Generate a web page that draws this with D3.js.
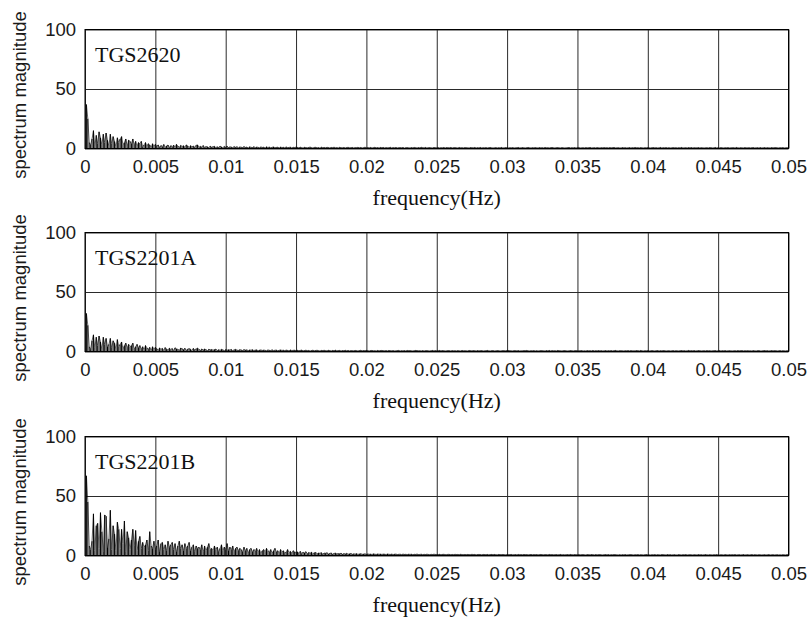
<!DOCTYPE html>
<html>
<head>
<meta charset="utf-8">
<script src="https://cdn.jsdelivr.net/npm/d3@7"></script>
<style>
  html, body { margin: 0; padding: 0; background: #fff; }
  svg { display: block; }
</style>
</head>
<body>
<svg id="chart" width="812" height="622"></svg>
<script>
// Sensor names shown in each panel
const sensorNames = ["TGS2620", "TGS2201A", "TGS2201B"];

// Frequency grid of the spectra: bin i sits at (i + 1) * freqStep Hz
const freqStep = 0.0001;

// Spectrum magnitudes, one value per frequency bin (0.0001 .. 0.05 Hz), ten bins per row
const spectrumTGS2620 = [
  37,25,5,3,8,15,2,11,4,14,
  9,3,12,5,13,7,2,12,4,10,
  6,1.5,9,5,8,10,3,5,8,2,
  7,6,4,8,3,6,2,5,4,6,
  1.5,3,5,2,4,3,1,4,2,3.5,
  2,3,1,2.5,1.5,3.4,1,2.2,2.9,0.8,
  2.4,1.6,2.8,1,3.5,2.1,0.9,2.6,1.7,2.3,
  1.2,3,2.2,0.8,2.4,1.5,2,1.1,2.7,3,
  1,1.8,1.2,2.5,0.9,1.6,1.4,0.7,2,1.1,
  1.5,1.8,0.8,1.4,0.9,1.9,1.3,0.6,1.7,1,
  1.9,0.8,1.4,1.2,0.7,1.6,1,1.5,0.6,1.3,
  1.1,0.8,1.6,0.9,1.2,0.5,1.4,1,0.8,1.5,
  0.7,1.2,1,0.6,1.3,0.9,1.1,0.5,1.4,0.8,
  1.2,0.6,1,1.3,0.7,0.9,1.1,0.5,1.2,0.8,
  1,0.6,1.3,0.7,0.9,1.1,0.5,1,0.8,1.2,
  0.9,0.6,1.1,0.7,0.5,1,0.8,0.6,0.9,1.2,
  0.7,0.5,0.9,1,0.6,0.8,0.4,1.1,0.7,0.9,
  0.6,1,0.8,0.5,0.9,0.7,1.1,0.6,0.8,0.5,
  1,0.7,0.6,0.9,0.5,0.8,1,0.6,0.7,0.9,
  0.5,0.8,0.7,1,0.6,0.9,0.5,0.7,1.1,0.6,
  0.8,0.6,0.9,0.5,0.7,1,0.6,0.8,0.5,0.9,
  0.7,0.9,0.5,0.8,0.6,0.7,1,0.5,0.8,0.6,
  0.9,0.5,0.7,0.8,0.6,0.9,0.4,0.7,0.8,0.6,
  0.5,0.8,0.6,0.9,0.7,0.5,0.8,0.6,1,0.7,
  0.6,0.9,0.5,0.7,0.8,0.6,0.5,0.9,0.7,0.6,
  0.8,0.5,0.7,0.6,0.9,0.5,0.8,0.7,0.6,0.9,
  0.5,0.7,0.8,0.6,0.5,0.9,0.6,0.7,0.5,0.8,
  0.7,0.6,0.5,0.8,0.7,0.6,0.9,0.5,0.7,0.6,
  0.9,0.5,0.7,0.6,0.8,0.5,0.7,0.9,0.6,0.5,
  0.6,0.8,0.5,0.7,0.6,0.9,0.5,0.6,0.8,0.7,
  0.5,0.7,0.6,0.8,0.5,0.6,0.7,0.9,0.5,0.6,
  0.8,0.6,0.5,0.7,0.9,0.6,0.5,0.7,0.6,0.8,
  0.6,0.5,0.8,0.6,0.7,0.5,0.9,0.6,0.7,0.5,
  0.7,0.9,0.6,0.5,0.7,0.8,0.6,0.5,0.8,0.6,
  0.5,0.6,0.7,0.9,0.5,0.7,0.6,0.8,0.5,0.7,
  0.8,0.5,0.6,0.7,0.5,0.8,0.6,0.7,0.9,0.5,
  0.6,0.7,0.5,0.8,0.6,0.5,0.7,0.6,0.8,0.6,
  0.7,0.5,0.8,0.6,0.7,0.9,0.5,0.6,0.7,0.5,
  0.5,0.8,0.6,0.7,0.5,0.6,0.8,0.5,0.7,0.6,
  0.9,0.6,0.7,0.5,0.8,0.6,0.5,0.7,0.6,0.8,
  0.6,0.5,0.7,0.8,0.6,0.7,0.5,0.6,0.9,0.5,
  0.7,0.6,0.8,0.5,0.7,0.5,0.6,0.8,0.6,0.7,
  0.5,0.7,0.6,0.9,0.5,0.6,0.7,0.5,0.8,0.6,
  0.8,0.5,0.7,0.6,0.6,0.8,0.5,0.7,0.6,0.5,
  0.6,0.7,0.5,0.8,0.7,0.5,0.6,0.9,0.5,0.7,
  0.5,0.8,0.6,0.5,0.7,0.6,0.8,0.5,0.6,0.7,
  0.7,0.5,0.9,0.6,0.5,0.7,0.6,0.5,0.8,0.6,
  0.6,0.7,0.5,0.7,0.8,0.5,0.6,0.7,0.5,0.8,
  0.5,0.6,0.8,0.5,0.7,0.6,0.5,0.8,0.6,0.7,
  0.8,0.6,0.5,0.7,0.6,0.8,0.5,0.6,0.7,0.5
];

const spectrumTGS2201A = [
  32,22,4,2,9,14,3,12,5,13,
  8,2,12,6,11,4,6,11,3,9,
  7,2,10,4,6,8,2,5,7,3,
  6,4,5,7,2,4,6,3,5,2,
  4,1.5,5,3,2,3.5,1,4,2,3.5,
  2.4,1,3,1.9,2.6,0.9,3.3,2,1.2,2.8,
  1.7,2.5,0.8,3.1,2.2,1.8,1,2.9,2.3,1.6,
  2.7,1,2,2.4,1.9,0.8,2.6,1.5,2.2,2.8,
  1.8,1,2.1,1.3,2.1,1.5,0.7,1.9,1.4,1.7,
  1.1,1.6,2,0.8,1.5,1,1.8,1.4,0.6,1.6,
  1.1,1.5,1.3,1.7,0.7,1.4,1.8,1.2,0.9,1.5,
  1.3,0.8,1.6,1.2,1.4,0.7,1.3,1.1,1.5,0.8,
  1.2,1.4,0.6,1.1,1.3,0.9,1.2,1,0.6,1.3,
  1,0.8,1.4,0.7,1.1,1.2,0.6,1,1.3,0.9,
  1.1,0.7,1.2,0.9,0.6,1.3,0.8,1,1.1,0.7,
  1,0.7,0.9,1.2,0.6,0.8,1.1,0.7,0.9,0.5,
  0.8,1.1,0.6,0.9,1,0.7,0.5,0.9,0.8,1,
  0.7,0.6,1,0.8,0.5,0.9,0.7,1.1,0.6,0.8,
  0.9,0.5,0.8,0.7,1,0.6,0.9,0.5,0.8,0.7,
  0.6,0.9,0.7,0.5,0.8,1,0.6,0.8,0.7,0.9,
  0.7,0.5,0.8,0.9,0.6,0.7,0.5,0.9,0.6,0.8,
  0.9,0.7,0.6,0.8,0.5,0.9,0.7,0.6,0.8,0.5,
  0.6,0.8,0.9,0.5,0.7,0.6,0.8,0.5,0.9,0.7,
  0.8,0.6,0.5,0.7,0.9,0.8,0.6,0.7,0.5,0.8,
  0.5,0.7,0.8,0.6,0.5,0.7,0.9,0.6,0.8,0.6,
  0.7,0.9,0.6,0.8,0.7,0.5,0.6,0.8,0.7,0.5,
  0.8,0.6,0.7,0.5,0.8,0.6,0.5,0.9,0.6,0.7,
  0.6,0.5,0.9,0.7,0.6,0.8,0.7,0.5,0.8,0.6,
  0.7,0.8,0.5,0.6,0.7,0.9,0.6,0.5,0.7,0.8,
  0.5,0.6,0.8,0.7,0.5,0.6,0.8,0.7,0.6,0.9,
  0.8,0.7,0.6,0.5,0.8,0.7,0.6,0.8,0.5,0.6,
  0.6,0.8,0.7,0.9,0.6,0.5,0.7,0.6,0.8,0.5,
  0.7,0.5,0.6,0.8,0.7,0.6,0.5,0.8,0.6,0.9,
  0.5,0.8,0.6,0.7,0.5,0.9,0.7,0.6,0.5,0.7,
  0.8,0.6,0.5,0.6,0.8,0.7,0.5,0.7,0.8,0.6,
  0.6,0.7,0.8,0.5,0.6,0.5,0.8,0.6,0.7,0.5,
  0.9,0.5,0.7,0.6,0.8,0.6,0.7,0.5,0.6,0.8,
  0.5,0.7,0.6,0.8,0.5,0.7,0.9,0.6,0.5,0.7,
  0.7,0.6,0.5,0.7,0.6,0.8,0.5,0.8,0.6,0.6,
  0.6,0.8,0.7,0.5,0.9,0.6,0.5,0.7,0.6,0.8,
  0.5,0.6,0.8,0.6,0.5,0.7,0.8,0.5,0.7,0.6,
  0.8,0.7,0.5,0.6,0.7,0.5,0.6,0.8,0.5,0.7,
  0.6,0.5,0.7,0.8,0.6,0.7,0.5,0.6,0.9,0.6,
  0.7,0.6,0.8,0.5,0.6,0.8,0.7,0.5,0.6,0.7,
  0.5,0.8,0.6,0.7,0.5,0.6,0.7,0.8,0.5,0.6,
  0.8,0.5,0.7,0.6,0.8,0.5,0.6,0.7,0.6,0.5,
  0.6,0.7,0.5,0.8,0.6,0.7,0.8,0.5,0.7,0.6,
  0.7,0.6,0.6,0.5,0.8,0.6,0.5,0.7,0.8,0.5,
  0.5,0.7,0.8,0.6,0.7,0.5,0.6,0.8,0.6,0.7,
  0.7,0.5,0.6,0.8,0.5,0.7,0.6,0.5,0.7,0.6
];

const spectrumTGS2201B = [
  67,45,8,5,12,35,4,25,27,6,
  36,20,3,34,33,7,14,38,5,25,
  18,4,28,22,6,22,10,29,3,20,
  15,5,13,22,8,21,4,12,16,6,
  11,7,9,13,4,20,8,6,12,5,
  8,13,3,10,11,5,9,4,12,7,
  9,11,5,10,3,8,12,6,9,4,
  10,6,8,11,4,7,9,3,8,6,
  7,5,9,3,8,4,7,10,5,6,
  4,8,5,7,3,6,9,4,7,5,
  10,4,7,5,8,3,6,7,4,6,
  5,3,7,4,6,2,5,6,3,5,
  4,6,3,5,2,4,5,3,6,4,
  3,5,2,4,6,3,4,2,5,3,
  4,2,3,5,2.5,3.5,2,4,3,2.5,
  3,2,3.5,1.8,2.7,2.2,3.2,1.6,2.5,2,
  2.8,1.5,2.3,2.6,1.4,2.1,1.8,2.4,1.2,2,
  1.9,2.3,1.3,1.8,2.1,1.1,1.7,2,1.4,1.6,
  1.5,1.9,1,1.6,1.3,1.8,1.1,1.4,1.7,1,
  1.4,1.2,1.6,0.9,1.3,1.5,1,1.2,1.4,0.9,
  1.3,1,1.2,0.8,1.4,1.1,0.9,1.3,1,1.2,
  0.9,1.2,1.1,0.8,1.3,1,0.9,1.2,0.8,1.1,
  1.2,0.8,1,1.1,0.7,1.2,0.9,1,0.8,1.1,
  0.9,1.1,0.7,1,0.9,1.2,0.8,0.9,1.1,0.7,
  1,0.8,1.1,0.9,0.7,1,0.8,1.1,0.9,0.8,
  0.8,1,0.7,0.9,1,0.8,0.7,1,0.9,0.7,
  0.9,0.7,1,0.8,0.9,0.7,1,0.8,0.7,0.9,
  0.7,0.9,0.8,0.7,1,0.8,0.9,0.6,0.8,0.9,
  0.8,0.6,0.9,0.8,0.7,0.9,0.6,0.8,0.9,0.7,
  0.9,0.7,0.6,0.9,0.8,0.7,0.9,0.7,0.6,0.8,
  0.7,0.8,0.9,0.6,0.7,0.8,0.6,0.9,0.7,0.8,
  0.6,0.9,0.7,0.8,0.6,0.7,0.9,0.6,0.8,0.7,
  0.8,0.6,0.7,0.9,0.7,0.6,0.8,0.7,0.6,0.9,
  0.7,0.8,0.6,0.7,0.8,0.6,0.7,0.9,0.6,0.7,
  0.6,0.7,0.8,0.6,0.9,0.7,0.6,0.8,0.7,0.6,
  0.8,0.6,0.7,0.8,0.6,0.5,0.8,0.7,0.6,0.8,
  0.7,0.5,0.8,0.6,0.7,0.8,0.6,0.5,0.7,0.8,
  0.6,0.8,0.5,0.7,0.6,0.8,0.7,0.6,0.5,0.7,
  0.5,0.7,0.6,0.8,0.5,0.6,0.7,0.8,0.6,0.5,
  0.7,0.6,0.8,0.5,0.7,0.6,0.5,0.7,0.8,0.6,
  0.6,0.5,0.7,0.6,0.8,0.5,0.7,0.6,0.5,0.8,
  0.7,0.6,0.5,0.8,0.6,0.7,0.5,0.6,0.7,0.5,
  0.5,0.8,0.6,0.5,0.7,0.6,0.8,0.5,0.6,0.7,
  0.6,0.5,0.7,0.6,0.5,0.8,0.6,0.7,0.5,0.6,
  0.8,0.6,0.5,0.7,0.6,0.5,0.7,0.6,0.8,0.5,
  0.5,0.7,0.6,0.5,0.8,0.6,0.5,0.7,0.6,0.7,
  0.6,0.8,0.5,0.6,0.7,0.5,0.6,0.8,0.5,0.6,
  0.7,0.5,0.6,0.8,0.5,0.7,0.6,0.5,0.7,0.6,
  0.5,0.6,0.7,0.5,0.6,0.8,0.5,0.6,0.7,0.5,
  0.6,0.7,0.5,0.6,0.5,0.7,0.6,0.5,0.8,0.6
];

const spectra = [spectrumTGS2620, spectrumTGS2201A, spectrumTGS2201B];

// Axis ticks and labels
const xTickValues = [0, 0.005, 0.01, 0.015, 0.02, 0.025, 0.03, 0.035, 0.04, 0.045, 0.05];
const xTickLabels = ["0", "0.005", "0.01", "0.015", "0.02", "0.025", "0.03", "0.035", "0.04", "0.045", "0.05"];
const yTickValues = [0, 50, 100];
const yTickLabels = ["0", "50", "100"];
const xAxisTitle = "frequency(Hz)";
const yAxisTitle = "spectrum magnitude";

// Panel geometry
const plotLeft = 85, plotRight = 788.5;
const panelTops = [29.5, 232.5, 436.5];
const panelHeight = 119;

const svg = d3.select("#chart");
const x = d3.scaleLinear().domain([0, 0.05]).range([plotLeft, plotRight]);

spectra.forEach((values, p) => {
  const top = panelTops[p], bottom = top + panelHeight;
  const y = d3.scaleLinear().domain([0, 100]).range([bottom, top]);
  const g = svg.append("g");

  // vertical grid + x tick labels
  const xAxis = d3.axisBottom(x)
    .tickValues(xTickValues)
    .tickFormat((d, i) => xTickLabels[i])
    .tickSize(-panelHeight)
    .tickPadding(11);
  const gx = g.append("g").attr("transform", `translate(0,${bottom})`).call(xAxis);
  gx.select(".domain").remove();
  gx.selectAll(".tick line").attr("stroke", "#2a2a2a").attr("stroke-width", 1);
  gx.selectAll(".tick text")
    .attr("font-family", "'Liberation Sans', Arial, sans-serif")
    .attr("font-size", "18.5px")
    .attr("fill", "#1a1a1a");

  // horizontal grid + y tick labels
  const yAxis = d3.axisLeft(y)
    .tickValues(yTickValues)
    .tickFormat((d, i) => yTickLabels[i])
    .tickSize(-(plotRight - plotLeft))
    .tickPadding(9);
  const gy = g.append("g").attr("transform", `translate(${plotLeft},0)`).call(yAxis);
  gy.select(".domain").remove();
  gy.selectAll(".tick line").attr("stroke", "#2a2a2a").attr("stroke-width", 1);
  gy.selectAll(".tick text")
    .attr("font-family", "'Liberation Sans', Arial, sans-serif")
    .attr("font-size", "18.5px")
    .attr("fill", "#1a1a1a");

  // spectrum: a vertical stick from zero at every frequency bin
  const fx = (d, i) => x((i + 1) * freqStep);
  g.append("g")
    .selectAll("line")
    .data(values)
    .join("line")
    .attr("x1", fx)
    .attr("x2", fx)
    .attr("y1", y(0))
    .attr("y2", d => y(d))
    .attr("stroke", "#000")
    .attr("stroke-width", 1);

  // thin baseline trace joining the stick tops
  g.append("path")
    .datum(values)
    .attr("d", d3.line().x(fx).y(d => y(d)))
    .attr("fill", "none")
    .attr("stroke", "#000")
    .attr("stroke-width", 0.6);

  // axes box
  g.append("rect")
    .attr("x", plotLeft).attr("y", top)
    .attr("width", plotRight - plotLeft).attr("height", panelHeight)
    .attr("fill", "none").attr("stroke", "#000").attr("stroke-width", 1);

  // sensor name
  g.append("text")
    .attr("x", plotLeft + 10).attr("y", top + 32)
    .attr("font-family", "'Liberation Serif', 'Times New Roman', serif")
    .attr("font-size", "22px")
    .attr("fill", "#111")
    .text(sensorNames[p]);

  // x-axis title
  g.append("text")
    .attr("x", (plotLeft + plotRight) / 2).attr("y", bottom + 56)
    .attr("text-anchor", "middle")
    .attr("font-family", "'Liberation Serif', 'Times New Roman', serif")
    .attr("font-size", "22px")
    .attr("fill", "#111")
    .text(xAxisTitle);

  // y-axis title
  const cy = top + panelHeight / 2 + 6;
  g.append("text")
    .attr("transform", `translate(26,${cy}) rotate(-90)`)
    .attr("text-anchor", "middle")
    .attr("font-family", "'Liberation Sans', Arial, sans-serif")
    .attr("font-size", "18.5px")
    .attr("fill", "#1a1a1a")
    .text(yAxisTitle);
});
</script>
</body>
</html>
